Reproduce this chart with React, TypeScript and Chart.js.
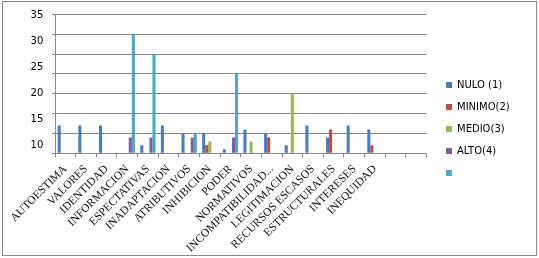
import React, { useEffect, useRef } from 'react';
import { Chart, registerables } from 'chart.js';

Chart.register(...registerables);

const categories = [
  'AUTOESTIMA', 'VALORES', 'IDENTIDAD', 'INFORMACION', 'ESPECTATIVAS', 'INADAPTACION',
  'ATRIBUTIVOS', 'INHIBICION', 'PODER', 'NORMATIVOS', 'INCOMPATIBILIDAD...', 'LEGITIMACION',
  'RECURSOS ESCASOS', 'ESTRUCTURALES', 'INTERESES', 'INEQUIDAD', '', '',
];

const nulo = [7, 7, 7, null, 2, 7, 5, 5, 1, 6, 5, 2, 7, 4, 7, 6, null, null];
const minimo = [null, null, null, null, null, null, null, 2, null, null, 4, null, null, 6, null, 2, null, null];
const medio = [null, null, null, null, null, null, null, 3, null, 3, null, 15, null, null, null, null, null, null];
const alto = [null, null, null, 4, 4, null, 4, null, 4, null, null, null, null, null, null, null, null, null];
const sinNombre = [null, null, null, 30, 25, null, 5, null, 20, null, null, null, null, null, null, null, null, null];

const seriesLabels = ['NULO (1)', 'MINIMO(2)', 'MEDIO(3)', 'ALTO(4)', ''];
const seriesColors = ['#4A7EBB', '#BE4B48', '#98B954', '#7D60A0', '#46AAC5'];

// value-axis (gridlines) and the displayed tick labels
const gridMin = 0;
const gridMax = 35;
const gridStep = 5;
const labelTicks = [10, 15, 20, 25, 30, 35];

const GRID = '#868686';

export default function App() {
  const ref = useRef<HTMLCanvasElement>(null);

  useEffect(() => {
    const seriesData = [nulo, minimo, medio, alto, sinNombre];
    const chart = new Chart(ref.current as HTMLCanvasElement, {
      type: 'bar',
      data: {
        labels: categories,
        datasets: seriesData.map((d, i) => ({
          label: seriesLabels[i],
          data: d,
          backgroundColor: seriesColors[i],
          borderWidth: 0,
          categoryPercentage: 0.74,
          barPercentage: 1,
          yAxisID: 'y',
        })),
      },
      options: {
        responsive: false,
        animation: false,
        devicePixelRatio: 1,
        layout: { padding: { top: 14.5, bottom: 0, left: 0, right: 19.3 } },
        plugins: {
          legend: {
            position: 'right',
            align: 'start',
            title: { display: true, text: '', padding: { top: 41.5, bottom: 0 }, font: { size: 10 } },
            labels: {
              boxWidth: 6,
              boxHeight: 6,
              padding: 12,
              color: '#000',
              font: { family: 'DejaVu Sans', size: 10 },
            },
          },
          tooltip: { enabled: false },
        },
        scales: {
          x: {
            grid: {
              display: true,
              drawOnChartArea: false,
              drawTicks: true,
              tickLength: 4,
              color: GRID,
              offset: true,
            },
            border: { display: true, color: GRID },
            ticks: {
              autoSkip: false,
              maxRotation: 45,
              minRotation: 45,
              padding: 5,
              color: '#111',
              font: { family: 'Liberation Serif', size: 11.5 },
            },
            afterFit: (s: any) => { s.height = 104.7; },
          },
          y: {
            position: 'left',
            weight: 0,
            min: gridMin,
            max: gridMax,
            grid: { color: GRID, tickLength: 3, drawTicks: true },
            border: { display: true, color: GRID },
            ticks: { display: false, stepSize: gridStep },
            afterFit: (s: any) => { s.width = 4; },
          },
          y2: {
            position: 'left',
            weight: 1,
            min: 8.57,
            max: 35.1,
            grid: { display: false, drawTicks: false },
            border: { display: false },
            ticks: {
              stepSize: 5,
              includeBounds: false,
              padding: 7.7,
              color: '#000',
              font: { family: 'DejaVu Sans', size: 10 },
            },
            afterBuildTicks: (s: any) => { s.ticks = labelTicks.map((v) => ({ value: v })); },
            afterFit: (s: any) => { s.width = 51; },
          },
          yR: {
            position: 'right',
            display: false,
            afterFit: (s: any) => { s.width = 7.5; },
          },
        },
      },
    } as any);
    return () => chart.destroy();
  }, []);

  return (
    <div style={{ position: 'fixed', left: 0, top: 0, width: 539, height: 258, background: '#fff' }}>
      <canvas ref={ref} width={539} height={258} style={{ position: 'absolute', left: 0, top: 0, width: 539, height: 258 }} />
      <div
        style={{
          position: 'absolute',
          left: 2,
          top: 1,
          width: 535,
          height: 255,
          boxSizing: 'border-box',
          border: '1px solid #888',
          pointerEvents: 'none',
        }}
      />
    </div>
  );
}
